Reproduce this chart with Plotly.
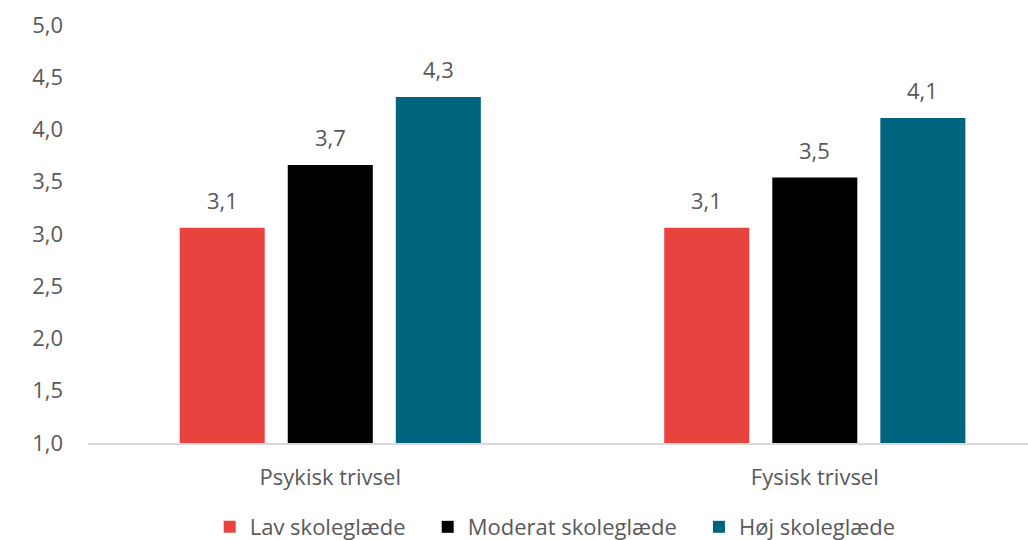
import plotly.graph_objects as go

# Mean wellbeing score by level of school enjoyment
categories = ["Psykisk trivsel", "Fysisk trivsel"]
series_names = ["Lav skoleglæde", "Moderat skoleglæde", "Høj skoleglæde"]
lav = [3.06, 3.06]
moderat = [3.66, 3.54]
hoj = [4.31, 4.11]
y_ticks = [1.0, 1.5, 2.0, 2.5, 3.0, 3.5, 4.0, 4.5, 5.0]

series_values = [lav, moderat, hoj]
colors = ["#E8433E", "#000000", "#00647F"]
text_color = "#595959"
font_family = "Open Sans, Noto Sans, sans-serif"
fs = 22
pad = "\u00a0\u00a0\u00a0"  # extra room between legend entries

fig = go.Figure()
for k, (name, vals, col) in enumerate(zip(series_names, series_values, colors)):
    fig.add_trace(go.Bar(
        x=categories, y=vals,
        name=name + (pad if k < len(series_names) - 1 else ""),
        marker=dict(color=col, line=dict(width=0)),
        hoverinfo="skip",
    ))

# Value labels above each bar, one decimal with a decimal comma
annotations = []
n = len(series_names)
bargap = 0.331
slot = (1 - bargap) / n
for i, vals in enumerate(series_values):
    for j, v in enumerate(vals):
        xpos = j - (1 - bargap) / 2 + slot * (i + 0.5)
        annotations.append(dict(
            x=xpos, y=v, xref="x", yref="y",
            text=f"{v:.1f}".replace(".", ","),
            showarrow=False, yanchor="middle", yshift=28,
            font=dict(family=font_family, size=fs, color=text_color),
        ))

fig.update_layout(
    width=1028, height=540,
    margin=dict(l=88, r=0, t=25, b=97, autoexpand=False),
    paper_bgcolor="white", plot_bgcolor="white",
    barmode="group", bargap=bargap, bargroupgap=0.213,
    font=dict(family=font_family, size=fs, color=text_color),
    showlegend=True,
    legend=dict(
        orientation="h", x=0.497, xanchor="center",
        y=-0.201, yanchor="middle",
        font=dict(family=font_family, size=fs, color=text_color),
        itemclick=False, itemdoubleclick=False,
    ),
    annotations=annotations,
    xaxis=dict(
        type="category",
        range=[-0.5, 1.44],
        showline=True, linecolor="#D9D9D9", linewidth=1.5,
        showgrid=False, zeroline=False,
        ticks="", ticklabelstandoff=14,
        tickfont=dict(family=font_family, size=fs, color=text_color),
    ),
    yaxis=dict(
        range=[1.0, 5.0],
        tickvals=y_ticks,
        ticktext=[f"{t:.1f}".replace(".", ",") for t in y_ticks],
        showline=False, showgrid=False, zeroline=False,
        ticks="", ticklabelstandoff=24,
        tickfont=dict(family=font_family, size=fs, color=text_color),
    ),
)

fig.write_html("out.html")
